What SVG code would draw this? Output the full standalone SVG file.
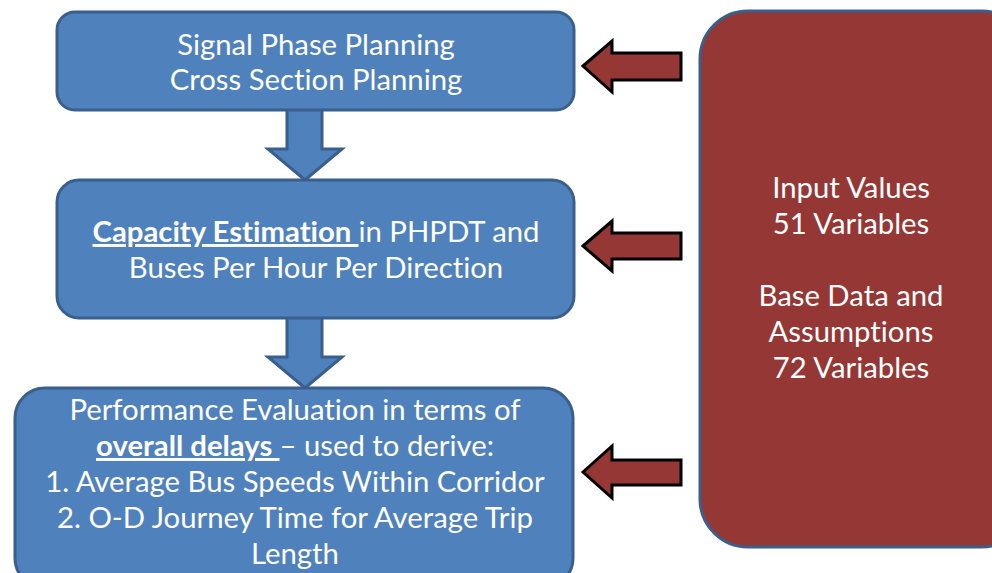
<svg xmlns="http://www.w3.org/2000/svg" width="992" height="573" viewBox="0 0 992 573">
<style>
.box{fill:#4F81BD;stroke:#3A5F8C;stroke-width:3}
.red{fill:#953735;stroke:#3A5F8C;stroke-width:3}
.rarr{fill:#953735;stroke:#000;stroke-width:3;stroke-linejoin:miter}
.darr{fill:#4F81BD;stroke:#3A5F8C;stroke-width:3}
text{font-family:Lato,"Open Sans",sans-serif;font-size:29.3px;fill:#fff;text-anchor:middle;font-variant-ligatures:none}
.b{font-weight:bold;text-decoration:underline}
</style>
<rect width="992" height="573" fill="#fff"/>
<g id="connectors">
<path class="darr" d="M287,110 V149 H268 L305,180 L342,149 H322 V110"/>
<path class="darr" d="M287,318 V357 H268 L305,388 L342,357 H322 V318"/>
<path class="rarr" d="M583,66 L612,41 V53 H681 V80 H612 V92 Z"/>
<path class="rarr" d="M583,246 L612,221 V233 H681 V259 H612 V271 Z"/>
<path class="rarr" d="M583,472 L612,446 V460 H681 V485 H612 V498 Z"/>
</g>
<g id="node1">
<rect class="box" x="57" y="12" width="517" height="98" rx="18"/>
<text x="316" y="55">Signal Phase Planning</text>
<text x="316" y="90">Cross Section Planning</text>
</g>
<g id="node2">
<rect class="box" x="57" y="180" width="517" height="138" rx="22"/>
<text x="316" y="242"><tspan class="b">Capacity Estimation </tspan>in PHPDT and</text>
<text x="316" y="278">Buses Per Hour Per Direction</text>
</g>
<g id="node3">
<rect class="box" x="15" y="388" width="558" height="200" rx="30"/>
<text x="295" y="420">Performance Evaluation in terms of</text>
<text x="295" y="456"><tspan class="b">overall delays </tspan>– used to derive:</text>
<text x="295" y="492">1. Average Bus Speeds Within Corridor</text>
<text x="295" y="528">2. O-D Journey Time for Average Trip</text>
<text x="295" y="564">Length</text>
</g>
<g id="inputs">
<rect class="red" x="700" y="11" width="330" height="536" rx="48"/>
<text x="851" y="198">Input Values</text>
<text x="851" y="234">51 Variables</text>
<text x="851" y="306">Base Data and</text>
<text x="851" y="342">Assumptions</text>
<text x="851" y="378">72 Variables</text>
</g>
</svg>
